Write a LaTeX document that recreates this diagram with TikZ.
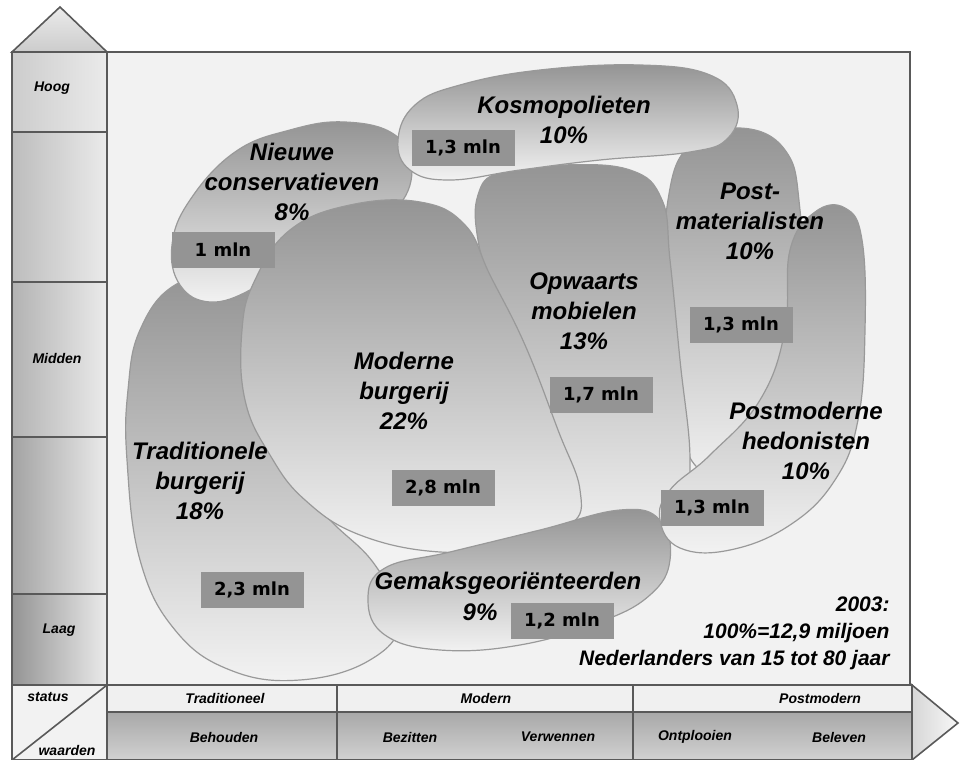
\documentclass[tikz,border=0pt]{standalone}
\usepackage{fontspec}
\setmainfont{Liberation Sans}
\newfontfamily\boxfont{DejaVu Sans}

\begin{document}
\begin{tikzpicture}[x=0.5pt, y=-0.5pt,
     frame/.style={draw=black!65, line width=0.8pt},
     blob/.style={draw=black!40, line width=0.6pt, top color=black!42, bottom color=black!5},
     segment/.style={font=\bfseries\itshape\fontsize{12}{15}\selectfont, align=center, inner sep=0pt},
     mln/.style={fill=black!42, minimum width=51.5pt, minimum height=18pt, inner sep=0pt,
                 font=\boxfont\bfseries\fontsize{9}{10}\selectfont},
     axislabel/.style={font=\bfseries\itshape\fontsize{7}{8}\selectfont, inner sep=0pt},
     note/.style={font=\bfseries\itshape\fontsize{10.5}{13.5}\selectfont, align=right, inner sep=0pt}]

   \useasboundingbox (0,0) rectangle (960,760);

   % panel and axes
   \draw[frame, fill=black!5] (107,52) rectangle (910,685);
   \draw[frame, top color=black!8, bottom color=black!20] (12,52) -- (60,7) -- (107,52) -- cycle;
   \foreach \ya/\yb/\tone in {52/132/20, 132/282/26, 282/437/30, 437/594/36, 594/685/42}
     \draw[frame, left color=black!\tone, right color=black!8] (12,\ya) rectangle (107,\yb);
   \draw[frame, fill=black!5] (12,685) rectangle (107,760);
   \draw[frame] (12,760) -- (107,685);
   \draw[frame, fill=black!6] (107,685) rectangle (912,712);
   \draw[frame, top color=black!34, bottom color=black!18] (107,712) rectangle (912,760);
   \draw[frame] (337,685) -- (337,760) (633,685) -- (633,760);
   \draw[frame, left color=black!16, right color=black!3] (912,685) -- (958,723) -- (912,760) -- cycle;

   % segments, back to front
   \path[blob] plot[smooth cycle, tension=0.7] coordinates {(140,330) (175,285) (230,275) (270,300) (275,400) (285,470) (330,520) (375,565) (400,620) (370,660) (300,680) (230,670) (175,630) (140,560) (127,460) (128,390)};
   \path[blob] plot[smooth cycle, tension=0.7] coordinates {(668,200) (690,145) (740,128) (785,150) (800,210) (805,330) (795,430) (760,470) (700,470) (675,400) (665,300)};
   \path[blob] plot[smooth cycle, tension=0.7] coordinates {(478,195) (500,172) (560,165) (630,170) (662,200) (670,260) (680,360) (690,460) (680,510) (640,530) (590,545) (565,520) (545,460) (520,380) (495,300) (478,240)};
   \path[blob] plot[smooth cycle, tension=0.7] coordinates {(172,245) (190,200) (235,152) (290,130) (345,122) (395,135) (412,170) (395,210) (350,235) (280,265) (250,290) (210,302) (180,285)};
   \path[blob] plot[smooth cycle, tension=0.7] coordinates {(255,280) (290,230) (350,205) (420,202) (465,225) (490,275) (525,345) (558,430) (580,490) (570,525) (510,545) (440,552) (360,535) (305,500) (270,455) (245,400) (242,330)};
   \path[blob] plot[smooth cycle, tension=0.7] coordinates {(398,140) (415,105) (460,85) (540,70) (640,65) (710,75) (737,105) (728,138) (690,152) (600,160) (520,170) (450,180) (410,170)};
   \path[blob] plot[smooth cycle, tension=0.7] coordinates {(368,600) (385,568) (450,552) (540,530) (620,510) (660,520) (670,560) (650,595) (600,622) (520,645) (440,650) (385,635)};
   \path[blob] plot[smooth cycle, tension=0.7] coordinates {(790,250) (815,212) (845,208) (862,240) (865,330) (858,420) (835,480) (790,525) (730,550) (680,548) (660,520) (670,490) (710,455) (760,400) (785,330)};

   % labels
   \node[segment] (kosmo) at (564,120) {Kosmopolieten\\10\%};
   \node[segment] (nieuwe) at (292,182) {Nieuwe\\conservatieven\\8\%};
   \node[segment] (postmat) at (750,221) {Post-\\materialisten\\10\%};
   \node[segment] (hedon) at (806,441) {Postmoderne\\hedonisten\\10\%};
   \node[segment] (opwaarts) at (584,311) {Opwaarts\\mobielen\\13\%};
   \node[segment] (modern) at (404,391) {Moderne\\burgerij\\22\%};
   \node[segment] (trad) at (200,481) {Traditionele\\burgerij\\18\%};
   \node[segment] (gemaks) at (508,583) {Gemaksgeoriënteerden};
   \node[segment] (gemakspct) at (480,612) {9\%};

   \node[mln] (kosmomln) at (463,148) {1,3 mln};
   \node[mln] (nieuwemln) at (223,250) {1 mln};
   \node[mln] (postmatmln) at (741,325) {1,3 mln};
   \node[mln] (hedonmln) at (712,508) {1,3 mln};
   \node[mln] (opwaartsmln) at (601,395) {1,7 mln};
   \node[mln] (modernmln) at (443,488) {2,8 mln};
   \node[mln] (tradmln) at (252,590) {2,3 mln};
   \node[mln] (gemaksmln) at (562,621) {1,2 mln};

   \node[note, anchor=east] (total) at (890,633) {2003:\\100\%=12,9 miljoen\\Nederlanders van 15 tot 80 jaar};

   % axis texts
   \node[axislabel] (hoog) at (52,88) {Hoog};
   \node[axislabel] (midden) at (57,358) {Midden};
   \node[axislabel] (laag) at (59,630) {Laag};
   \node[axislabel] (status) at (48,697) {status};
   \node[axislabel] (waarden) at (67,750) {waarden};
   \node[axislabel] (tradit) at (225,698) {Traditioneel};
   \node[axislabel] (moderntxt) at (486,698) {Modern};
   \node[axislabel] (postmod) at (820,698) {Postmodern};
   \node[axislabel] (behouden) at (224,737) {Behouden};
   \node[axislabel] (bezitten) at (410,737) {Bezitten};
   \node[axislabel] (verwennen) at (558,737) {Verwennen};
   \node[axislabel] (ontplooien) at (695,737) {Ontplooien};
   \node[axislabel] (beleven) at (839,737) {Beleven};
\end{tikzpicture}
\end{document}
